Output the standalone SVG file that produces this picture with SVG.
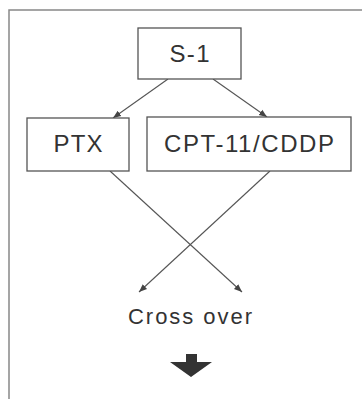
<svg xmlns="http://www.w3.org/2000/svg" width="362" height="399" viewBox="0 0 362 399">
<style>
.box{fill:#fff;stroke:#555;stroke-width:1.3}
.lbl{font-family:"Liberation Sans",Arial,sans-serif;font-size:24px;fill:#333;text-anchor:middle}
.edge{stroke:#555;stroke-width:1.1;fill:none}
.frame{stroke:#888;stroke-width:1.5;fill:none}
</style>
<defs>
<marker id="ah" viewBox="0 0 10 10" refX="10" refY="5" markerWidth="8" markerHeight="8" orient="auto" markerUnits="userSpaceOnUse">
<path d="M0,1 L10,5 L0,9 Z" fill="#444"/>
</marker>
</defs>
<rect width="362" height="399" fill="#fff"/>
<path class="frame" d="M9,399 V10 H362"/>
<g id="connectors">
<line class="edge" x1="168" y1="79" x2="113" y2="118" marker-end="url(#ah)"/>
<line class="edge" x1="213" y1="79" x2="267" y2="117" marker-end="url(#ah)"/>
<line class="edge" x1="110" y1="171" x2="242" y2="292" marker-end="url(#ah)"/>
<line class="edge" x1="270" y1="171" x2="139" y2="292" marker-end="url(#ah)"/>
</g>
<g id="s1">
<rect class="box" x="138" y="28" width="103" height="51"/>
<text class="lbl" x="189.5" y="62" textLength="40">S-1</text>
</g>
<g id="ptx">
<rect class="box" x="27" y="118" width="102" height="53"/>
<text class="lbl" x="78" y="152" textLength="49">PTX</text>
</g>
<g id="cpt">
<rect class="box" x="147" y="117" width="204" height="54"/>
<text class="lbl" x="249" y="152" textLength="170">CPT-11/CDDP</text>
</g>
<g id="crossover">
<text class="lbl" x="190" y="324" style="font-size:22px" textLength="124">Cross over</text>
</g>
<g id="down-arrow">
<polygon points="186,354 197,354 197,362 212,362 191,377 170,362 186,362" fill="#333"/>
</g>
</svg>
